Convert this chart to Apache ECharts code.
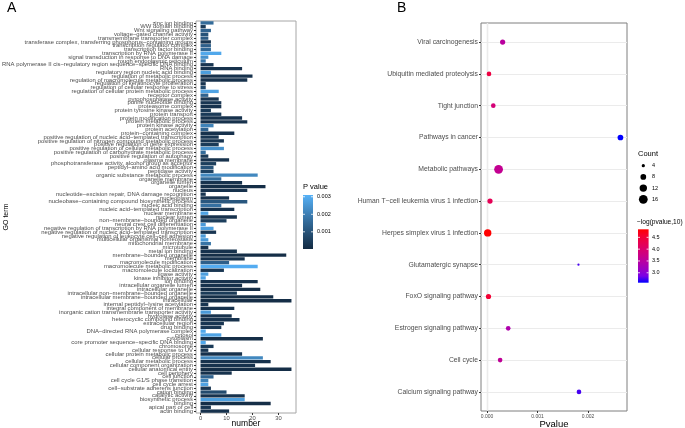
<!DOCTYPE html>
<html>
<head>
<meta charset="utf-8">
<title>GO / KEGG</title>
<script src="https://cdn.jsdelivr.net/npm/echarts@6/dist/echarts.min.js"></script>
<style>
  html, body { margin: 0; padding: 0; background: #fff; }
  #main { width: 685px; height: 428px; }
</style>
</head>
<body>
<div id="main"></div>
<script>
// ---------- A : GO terms, top -> bottom as in the figure
var goTerms = [
  'zinc ion binding', 'WW domain binding', 'Wnt signaling pathway', 'voltage\u2212gated channel activity',
  'transmembrane transporter complex', 'transferase complex, transferring phosphorus\u2212containing groups',
  'transcription regulator complex', 'transcription factor binding', 'transcription by RNA polymerase II',
  'signal transduction in response to DNA damage', 'rough endoplasmic reticulum',
  'RNA polymerase II cis\u2212regulatory region sequence\u2212specific DNA binding', 'RNA binding',
  'regulatory region nucleic acid binding', 'regulation of metabolic process',
  'regulation of macromolecule metabolic process', 'regulation of keratinocyte proliferation',
  'regulation of cellular response to stress', 'regulation of cellular protein metabolic process',
  'receptor complex', 'pyrophosphatase activity', 'purine nucleotide binding', 'proteasome complex',
  'protein tyrosine kinase activity', 'protein transport', 'protein modification process',
  'protein metabolic process', 'protein kinase activity', 'protein acetylation', 'protein\u2212containing complex',
  'positive regulation of nucleic acid\u2212templated transcription',
  'positive regulation of nitrogen compound metabolic process', 'positive regulation of gene expression',
  'positive regulation of cellular metabolic process', 'positive regulation of carbohydrate metabolic process',
  'positive regulation of autophagy', 'plasma membrane', 'phosphotransferase activity, alcohol group as acceptor',
  'peptidyl\u2212amino acid modification', 'peptidase activity', 'organic substance metabolic process',
  'organelle membrane', 'organelle lumen', 'organelle', 'nucleus',
  'nucleotide\u2212excision repair, DNA damage recognition', 'nucleoplasm',
  'nucleobase\u2212containing compound biosynthetic process', 'nucleic acid binding',
  'nucleic acid\u2212templated transcription', 'nuclear membrane', 'nuclear lumen',
  'non\u2212membrane\u2212bounded organelle', 'neural crest cell differentiation',
  'negative regulation of transcription by RNA polymerase II',
  'negative regulation of nucleic acid\u2212templated transcription',
  'negative regulation of leukocyte cell\u2212cell adhesion', 'multicellular organismal homeostasis',
  'mitochondrial membrane', 'microtubule', 'metal ion binding', 'membrane\u2212bounded organelle', 'membrane',
  'macromolecule modification', 'macromolecule metabolic process', 'macromolecule localization',
  'ligase activity', 'kinase inhibitor activity', 'ion binding', 'intracellular organelle lumen',
  'intracellular organelle', 'intracellular non\u2212membrane\u2212bounded organelle',
  'intracellular membrane\u2212bounded organelle', 'intracellular', 'internal peptidyl\u2212lysine acetylation',
  'integral component of membrane', 'inorganic cation transmembrane transporter activity',
  'hydrolase activity', 'heterocyclic compound binding', 'extracellular region', 'drug binding',
  'DNA\u2212directed RNA polymerase complex', 'cytosol', 'cytoplasm',
  'core promoter sequence\u2212specific DNA binding', 'chromosome', 'cellular response to UV',
  'cellular protein metabolic process', 'cellular process', 'cellular metabolic process',
  'cellular component organization', 'cellular anatomical entity', 'cell periphery', 'cell junction',
  'cell cycle G1/S phase transition', 'cell cycle arrest', 'cell\u2212substrate adherens junction',
  'cation binding', 'catalytic activity', 'biosynthetic process', 'binding', 'apical part of cell',
  'actin binding'
];
var goNumber = [
  5, 2, 4, 3, 3, 4, 4, 4, 8, 3, 2, 5, 16, 4, 20, 18, 2, 2, 7, 3,
  7, 8, 8, 4, 8, 16, 18, 5, 3, 13, 7, 9, 7, 9, 2, 3, 11, 6, 5, 5,
  22, 8, 16, 25, 18, 2, 11, 18, 8, 13, 3, 14, 10, 2, 5, 6, 2, 3, 4, 3,
  14, 33, 17, 11, 22, 9, 3, 2, 22, 16, 23, 14, 28, 35, 3, 13, 4, 12, 15, 9,
  8, 2, 8, 24, 2, 5, 3, 16, 24, 27, 21, 35, 12, 5, 3, 3, 4, 10, 17, 17,
  27, 4, 11
];
var goPvalue = [
  0.0016, 0.0004, 0.0014, 0.0010, 0.0012, 0.0003, 0.0013, 0.0015, 0.0029, 0.0024,
  0.0018, 0.0003, 0.0002, 0.0027, 0.0002, 0.0002, 0.0003, 0.0008, 0.0028, 0.0014,
  0.0003, 0.0003, 0.0002, 0.0004, 0.0004, 0.0002, 0.0002, 0.0021, 0.0014, 0.0002,
  0.0003, 0.0003, 0.0004, 0.0024, 0.0016, 0.0004, 0.0002, 0.0005, 0.0010, 0.0006,
  0.0022, 0.0016, 0.0002, 0.0001, 0.0002, 0.0003, 0.0002, 0.0011, 0.0017, 0.0002,
  0.0028, 0.0002, 0.0005, 0.0026, 0.0027, 0.0003, 0.0026, 0.0026, 0.0018, 0.0002,
  0.0002, 0.0001, 0.0002, 0.0013, 0.0030, 0.0003, 0.0027, 0.0028, 0.0002, 0.0002,
  0.0001, 0.0004, 0.0001, 0.0001, 0.0003, 0.0002, 0.0026, 0.0002, 0.0002, 0.0003,
  0.0003, 0.0029, 0.0028, 0.0001, 0.0029, 0.0004, 0.0003, 0.0002, 0.0022, 0.0002,
  0.0002, 0.0001, 0.0002, 0.0014, 0.0021, 0.0028, 0.0003, 0.0008, 0.0002, 0.0027,
  0.0001, 0.0003, 0.0002
];
var numberTicks = [0, 10, 20, 30];
var pLegendTicks = [0.003, 0.002, 0.001];

// ---------- B : KEGG pathways, top -> bottom
var keggPathways = [
  'Viral carcinogenesis', 'Ubiquitin mediated proteolysis', 'Tight junction', 'Pathways in cancer',
  'Metabolic pathways', 'Human T\u2212cell leukemia virus 1 infection', 'Herpes simplex virus 1 infection',
  'Glutamatergic synapse', 'FoxO signaling pathway', 'Estrogen signaling pathway', 'Cell cycle',
  'Calcium signaling pathway'
];
var keggPvalue = [0.00031, 0.00004, 0.000125, 0.00264, 0.00023, 0.00006, 0.0000145,
  0.00181, 0.00003, 0.00042, 0.00026, 0.00182];
var keggCount = [7, 6, 6, 8, 16, 7, 12, 3, 7, 6, 6, 6];
var pvalueTicks = [0, 0.001, 0.002];
var pvalueGrid = [0, 0.0005, 0.001, 0.0015, 0.002, 0.0025];
var countBreaks = [4, 8, 12, 16];
var logBreaks = [4.5, 4.0, 3.5, 3.0];

var FONT = 'Liberation Sans, Arial, sans-serif';
var GREY = '#4d4d4d';

// colour ramps (ggplot-like)
var goRamp = ['#132B43', '#336A98', '#56B1F7'];
var pMin = 0.00002, pMax = 0.0031;
var logRamp = ['#0000FF', '#7A00E7', '#9A00C3', '#B300A7', '#C90089', '#D9006D', '#E8004F', '#F40030', '#FF0000'];
var logMin = 2.58, logMax = 4.84;

// point diameter from count (area ~ count)
function sizeOf(n) { return Math.sqrt(Math.max(1, -11.9 + 5.58 * n)); }

var goData = [];
for (var i = 0; i < goTerms.length; i++) {
  goData.push([goNumber[i], goTerms[i], goPvalue[i]]);
}
var keggData = [];
for (var j = 0; j < keggPathways.length; j++) {
  keggData.push([keggPvalue[j], j, keggCount[j], -Math.log10(keggPvalue[j])]);
}
var keggIdx = keggPathways.map(function (p, k) { return k; });

function txt(x, y, s, size, align, rot) {
  var o = {
    type: 'text', x: x, y: y, silent: true,
    style: { text: s, fontSize: size, fontFamily: FONT, fill: '#000',
      align: align || 'left', verticalAlign: 'middle', textAlign: align || 'left', textVerticalAlign: 'middle' }
  };
  if (rot) o.rotation = rot;
  return o;
}
function stops(arr, reverse) {
  var out = [];
  for (var k = 0; k < arr.length; k++) {
    var c = reverse ? arr[arr.length - 1 - k] : arr[k];
    out.push({ offset: k / (arr.length - 1), color: c });
  }
  return out;
}

var graphics = [];
graphics.push(txt(7, 8, 'A', 14));
graphics.push(txt(397, 8, 'B', 14));
// axis titles placed by hand (v6 moves names away from labels otherwise)
graphics.push(txt(246, 424, 'number', 8.5, 'center'));
graphics.push(txt(554, 424, 'Pvalue', 9.5, 'center'));
graphics.push(txt(6, 217, 'GO term', 7, 'center', Math.PI / 2));

// P value colourbar (panel A)
var cbA = { x: 303, y: 195, w: 10, h: 54 };
graphics.push(txt(303, 187, 'P value', 7.5));
graphics.push({ type: 'rect', shape: { x: cbA.x, y: cbA.y, width: cbA.w, height: cbA.h },
  style: { fill: { type: 'linear', x: 0, y: 0, x2: 0, y2: 1, colorStops: stops(goRamp, true) } } });
pLegendTicks.forEach(function (v) {
  var yy = cbA.y + (pMax - v) / (pMax - pMin) * cbA.h;
  graphics.push({ type: 'line', shape: { x1: cbA.x, y1: yy, x2: cbA.x + 2, y2: yy }, style: { stroke: '#fff', lineWidth: 0.8 } });
  graphics.push({ type: 'line', shape: { x1: cbA.x + cbA.w - 2, y1: yy, x2: cbA.x + cbA.w, y2: yy }, style: { stroke: '#fff', lineWidth: 0.8 } });
  graphics.push(txt(317, yy, v.toFixed(3), 5.5));
});

// Count size legend (panel B)
graphics.push(txt(638, 154, 'Count', 7.5));
countBreaks.forEach(function (c, k) {
  var yy = 165.7 + k * 11.2;
  graphics.push({ type: 'circle', shape: { cx: 643.3, cy: yy, r: sizeOf(c) / 2 }, style: { fill: '#000' } });
  graphics.push(txt(652, yy, String(c), 5.5));
});

// -log(pvalue,10) colourbar (panel B)
var cbB = { x: 638, y: 229.3, w: 10.6, h: 53.4 };
graphics.push(txt(637, 222, '\u2212log(pvalue,10)', 6.6));
graphics.push({ type: 'rect', shape: { x: cbB.x, y: cbB.y, width: cbB.w, height: cbB.h },
  style: { fill: { type: 'linear', x: 0, y: 0, x2: 0, y2: 1, colorStops: stops(logRamp, true) } } });
logBreaks.forEach(function (v) {
  var yy = cbB.y + (logMax - v) / (logMax - logMin) * cbB.h;
  graphics.push({ type: 'line', shape: { x1: cbB.x, y1: yy, x2: cbB.x + 2, y2: yy }, style: { stroke: '#fff', lineWidth: 0.8 } });
  graphics.push({ type: 'line', shape: { x1: cbB.x + cbB.w - 2, y1: yy, x2: cbB.x + cbB.w, y2: yy }, style: { stroke: '#fff', lineWidth: 0.8 } });
  graphics.push(txt(652, yy, v.toFixed(1), 5.5));
});

var chart = echarts.init(document.getElementById('main'), null, { renderer: 'canvas' });
var option = {
  animation: false,
  backgroundColor: '#fff',
  textStyle: { fontFamily: FONT },
  grid: [
    { left: 196, top: 21, width: 100, height: 392, show: true, borderColor: '#a6a6a6', borderWidth: 1,
      backgroundColor: 'transparent', containLabel: false, outerBoundsMode: 'none' },
    { left: 481, top: 23, width: 146, height: 388, show: true, borderColor: '#7f7f7f', borderWidth: 1,
      backgroundColor: 'transparent', containLabel: false, outerBoundsMode: 'none' }
  ],
  xAxis: [
    {
      type: 'value', gridIndex: 0, min: -1.75, max: 36.75, position: 'bottom',
      axisLine: { show: false, onZero: false },
      axisTick: { show: true, length: 2, lineStyle: { color: '#333' }, customValues: numberTicks },
      axisLabel: { fontSize: 5.8, color: GREY, margin: 2, customValues: numberTicks },
      splitLine: { show: false }
    },
    {
      type: 'value', gridIndex: 1, min: -0.000118, max: 0.00277, position: 'bottom',
      axisLine: { show: false, onZero: false },
      axisTick: { show: true, length: 2, lineStyle: { color: '#333' }, customValues: pvalueTicks },
      axisLabel: { fontSize: 5, color: GREY, margin: 3, customValues: pvalueTicks,
        formatter: function (v) { return v.toFixed(3); } },
      splitLine: { show: false }
    }
  ],
  yAxis: [
    {
      type: 'category', gridIndex: 0, data: goTerms, inverse: true, position: 'left',
      axisLine: { show: false, onZero: false },
      axisTick: { show: true, length: 2, alignWithLabel: true, lineStyle: { color: '#333' } },
      axisLabel: { interval: 0, fontSize: 5.9, color: GREY, margin: 3 },
      splitLine: { show: false }
    },
    {
      type: 'value', gridIndex: 1, min: -0.6, max: 11.6, inverse: true, position: 'left',
      axisLine: { show: false, onZero: false },
      axisTick: { show: true, length: 2, lineStyle: { color: '#333' }, customValues: keggIdx },
      axisLabel: { fontSize: 6.8, color: GREY, margin: 3, customValues: keggIdx,
        formatter: function (v) { return keggPathways[Math.round(v)]; } },
      splitLine: { show: false }
    }
  ],
  visualMap: [
    { show: false, type: 'continuous', seriesIndex: 0, dimension: 2, min: pMin, max: pMax, inRange: { color: goRamp } },
    { show: false, type: 'continuous', seriesIndex: 2, dimension: 3, min: logMin, max: logMax, inRange: { color: logRamp } }
  ],
  series: [
    {
      type: 'bar', xAxisIndex: 0, yAxisIndex: 0, barWidth: '88%',
      encode: { x: 0, y: 1 },
      data: goData
    },
    {
      // panel B grid lines, kept under the points
      type: 'scatter', xAxisIndex: 1, yAxisIndex: 1, z: 1, data: [],
      silent: true,
      markLine: {
        z: 1, silent: true, symbol: 'none', label: { show: false }, animation: false,
        lineStyle: { type: 'solid', color: '#ebebeb', width: 1.1 },
        data: pvalueGrid.map(function (v) { return { xAxis: v }; })
          .concat(keggIdx.map(function (k) { return { yAxis: k }; }))
      }
    },
    {
      type: 'scatter', xAxisIndex: 1, yAxisIndex: 1, z: 5,
      encode: { x: 0, y: 1 },
      symbolSize: function (val) { return sizeOf(val[2]); },
      itemStyle: { opacity: 1 },
      data: keggData
    }
  ],
  graphic: graphics
};
chart.setOption(option);
</script>
</body>
</html>
